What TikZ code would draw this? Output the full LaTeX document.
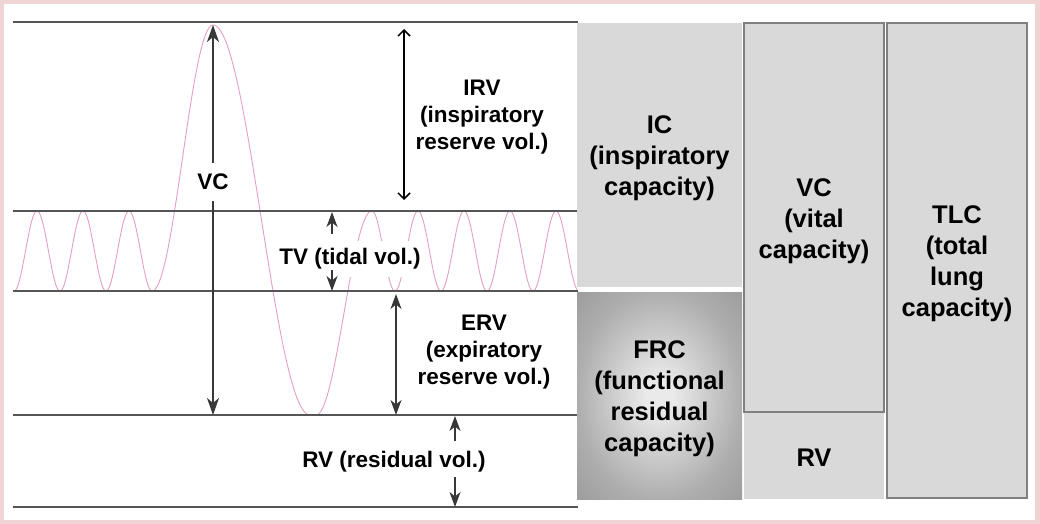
\documentclass[tikz,border=0pt]{standalone}
\usepackage{fontspec}
\setmainfont{Liberation Sans}
\usetikzlibrary{arrows.meta}
\definecolor{framepink}{HTML}{F0D4D4}
\definecolor{boxgray}{HTML}{D9D9D9}
\definecolor{edgegray}{HTML}{808080}
\definecolor{linegray}{HTML}{555555}
\definecolor{arrowgray}{HTML}{383838}
\definecolor{wavepink}{HTML}{E4A0C4}
\definecolor{frcin}{HTML}{EAEAEA}
\definecolor{frcedge}{HTML}{AEAEAE}
\definecolor{frccorner}{HTML}{9C9C9C}
\pgfdeclareradialshading{frcshade}{\pgfpointorigin}{color(0bp)=(frcin); color(4bp)=(frcin); color(25bp)=(frcedge); color(36bp)=(frccorner); color(50bp)=(frccorner)}
\begin{document}
\begin{tikzpicture}[x=1pt,y=-1pt,
  level/.style={draw=linegray, line width=1.2pt},
  wave/.style={draw=wavepink, line width=0.9pt},
  leftlab/.style={font=\fontsize{22.5}{27}\selectfont\bfseries, align=center, inner sep=1pt},
  boxlab/.style={font=\fontsize{25.5}{31}\selectfont\bfseries, align=center, inner sep=0pt, yshift=-3.5pt},
  graytip/.tip={Stealth[length=17pt,width=12pt,inset=5pt]},
  smalltip/.tip={Stealth[length=15pt,width=11pt,inset=4.5pt]},
  grayarrow/.style={draw=arrowgray, line width=1.3pt, -graytip},
  smallarrow/.style={draw=arrowgray, line width=1.3pt, -smalltip},
  grayboth/.style={draw=arrowgray, line width=1.3pt, smalltip-smalltip},
  blackboth/.style={draw=black, line width=1.5pt, {Straight Barb[length=6pt,width=12pt]}-{Straight Barb[length=6pt,width=12pt]}},
  plainbox/.style={fill=boxgray, draw=none, inner sep=0pt},
  framedbox/.style={fill=boxgray, draw=edgegray, line width=1.8pt, inner sep=0pt}
]
\useasboundingbox (0,0) rectangle (1040,524);
\fill[framepink] (0,0) rectangle (1040,524);
\fill[white] (4,4) rectangle (1035,520);

% breathing trace
\draw[wave] plot[domain=13:152, samples=160] (\x,{251-40*cos(7.826087*(\x-37))})
  -- plot[domain=152:213, samples=50] (\x,{158+133*cos(2.95082*(\x-152))})
  -- plot[domain=213:310, samples=80] (\x,{220-195*cos(1.85567*(\x-213))})
  -- plot[domain=316:372, samples=50] (\x,{313+102*cos(3.214286*(\x-316))})
  -- plot[domain=372:577, samples=220] (\x,{251-40*cos(7.826087*(\x-372))});

% level lines
\coordinate (l1a) at (13,22);  \coordinate (l1b) at (578,22);
\coordinate (l2a) at (13,211); \coordinate (l2b) at (578,211);
\coordinate (l3a) at (13,291); \coordinate (l3b) at (578,291);
\coordinate (l4a) at (13,415); \coordinate (l4b) at (578,415);
\coordinate (l5a) at (13,507); \coordinate (l5b) at (578,507);
\foreach \i in {1,...,5} {\draw[level] (l\i a) -- (l\i b);}

% labels on the left
\node[leftlab, fill=white, inner ysep=11pt, inner xsep=3pt] (vclab) at (213,182) {VC};
\node[leftlab] (irvlab) at (482,117) {IRV\\(inspiratory\\reserve vol.)};
\node[leftlab, fill=white, inner xsep=6pt, inner ysep=8pt] (tvlab) at (350,259) {TV (tidal vol.)};
\node[leftlab] (ervlab) at (484,352) {ERV\\(expiratory\\reserve vol.)};
\node[leftlab] (rvlab) at (394,462) {RV (residual vol.)};

% arrows
\coordinate (vctop) at (213,25);
\coordinate (vcbot) at (213,415);
\draw[grayarrow] (vclab) -- (vctop);
\draw[grayarrow] (vclab) -- (vcbot);

\coordinate (irvtop) at (404,29);
\coordinate (irvbot) at (404,200);
\draw[blackboth] (irvtop) -- (irvbot);

\coordinate (tvup0) at (332,234);
\coordinate (tvup1) at (332,212);
\coordinate (tvdn0) at (332,270);
\coordinate (tvdn1) at (332,291);
\draw[smallarrow] (tvup0) -- (tvup1);
\draw[smallarrow] (tvdn0) -- (tvdn1);

\coordinate (ervtop) at (396,294);
\coordinate (ervbot) at (396,415);
\draw[grayboth] (ervtop) -- (ervbot);

\coordinate (rvup0) at (455,441);
\coordinate (rvup1) at (455,416);
\coordinate (rvdn0) at (455,477);
\coordinate (rvdn1) at (455,507);
\draw[smallarrow] (rvup0) -- (rvup1);
\draw[smallarrow] (rvdn0) -- (rvdn1);

% capacity boxes
\node[plainbox, minimum width=165pt, minimum height=264pt] (ic) at (659.5,155) {};
\node[shading=frcshade, inner sep=0pt, minimum width=165pt, minimum height=207pt] (frc) at (659.5,395.5) {};
\node[plainbox, minimum width=140pt, minimum height=87pt] (rv) at (814,455.5) {};
\node[framedbox, minimum width=140pt, minimum height=389pt] (vc) at (814,217.5) {};
\node[framedbox, minimum width=140pt, minimum height=475pt] (tlc) at (957,260.5) {};

\node[boxlab] (iclab) at (ic.center) {IC\\(inspiratory\\capacity)};
\node[boxlab] (frclab) at (frc.center) {FRC\\(functional\\residual\\capacity)};
\node[boxlab, yshift=1.5pt] (rvboxlab) at (rv.center) {RV};
\node[boxlab] (vcboxlab) at (vc.center) {VC\\(vital\\capacity)};
\node[boxlab] (tlclab) at (tlc.center) {TLC\\(total\\lung\\capacity)};
\end{tikzpicture}
\end{document}
